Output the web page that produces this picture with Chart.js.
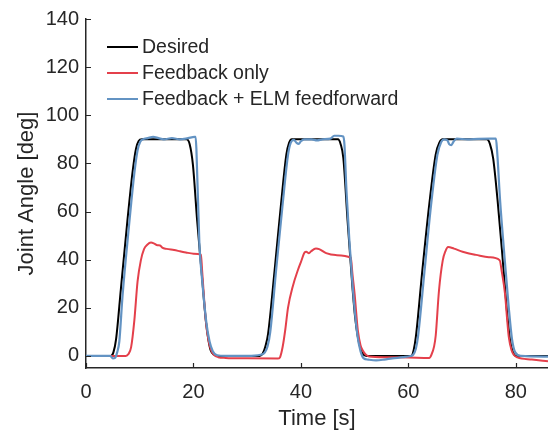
<!DOCTYPE html>
<html>
<head>
<meta charset="utf-8">
<script src="https://cdn.jsdelivr.net/npm/chart.js@4.4.1/dist/chart.umd.min.js"></script>
<style>
  html, body { margin: 0; padding: 0; background: #fff; }
  #wrap { width: 548px; height: 432px; }
</style>
</head>
<body>
<div id="wrap"><canvas id="myChart" width="548" height="432"></canvas></div>
<script>
// tick values
const xTicks = [0, 20, 40, 60, 80];
const yTicks = [0, 20, 40, 60, 80, 100, 120, 140];

// Desired (black)
const desiredT = [
  0, 4.6, 5.1, 5.6, 6.5, 7.7, 8.7, 9.3, 9.8, 10.4,
  18.7, 19.3, 19.9, 20.7, 21.5, 22.3, 22.8, 23.2, 23.8, 24.6,
  32.3, 32.9, 33.4, 33.9, 35.1, 36.3, 37.3, 37.8, 38.3,
  46.9, 47.4, 47.9, 48.7, 49.6, 50.1, 50.6, 51.1, 51.5, 52.2,
  60.5, 61.0, 61.4, 62.6, 63.9, 65.1, 65.8, 66.4,
  74.6, 75.2, 75.8, 76.6, 77.5, 78.3, 78.9, 79.4, 80.1, 86
];
const desiredY = [
  0, 0, 1.5, 7, 28, 56, 77, 86, 89.3, 90,
  90, 88, 79.5, 56, 35.4, 14.8, 6.5, 2.4, 0.6, 0,
  0, 1, 4, 9.3, 35.4, 63, 83.7, 88.5, 90,
  90, 88, 82.3, 56, 28.5, 16, 7.9, 3, 1, 0,
  0, 2.5, 7.9, 35.4, 63, 83.7, 88.7, 90,
  90, 88, 82, 65, 42, 20, 7, 2, 0, 0
];

// Feedback only (red)
const feedbackT = [
  0, 7.4, 7.9, 8.4, 9.0, 9.6, 10.2, 10.8, 11.4, 12.1,
  12.7, 13.3, 13.8, 14.2, 15.0, 16.4, 17.5, 18.6, 20.0, 21.4,
  21.6, 22.3, 22.8, 23.3, 23.8, 24.6, 26, 30, 35.7,
  36.1, 36.6, 37.1, 37.6, 38.5, 39.4, 40.0, 40.7,
  41.0, 41.5, 41.9, 42.8, 43.4, 44.7, 46.5, 49.3,
  49.6, 50.0, 50.6, 51.1, 51.5, 52.1, 52.7, 56, 60, 63.9,
  64.3, 64.8, 65.1, 65.7, 66.4, 66.9, 67.4,
  68.5, 70.1, 71.3, 72.6, 75, 77.0,
  77.4, 78.0, 78.4, 78.7, 79.2, 79.7, 80.3, 83, 86
];
const feedbackY = [
  0, 0, 0.8, 3.7, 14.8, 31, 39.6, 44.4, 46.2, 47.1,
  46.7, 46.0, 45.9, 45.0, 44.5, 44.0, 43.5, 43.0, 42.5, 42.1,
  36, 14.8, 6.5, 2.4, 0.5, -0.5, -0.8, -1.0, -1.1,
  -0.6, 3.7, 11, 20, 29, 35.4, 39, 43,
  43.3, 42.7, 43.5, 44.6, 44.4, 42.7, 41.9, 40.8,
  34, 25.8, 10.6, 4.5, 2.4, 0.5, -0.2, -0.5, -0.6, -0.8,
  0.5, 4, 8.5, 27, 39.6, 43.5, 45.3,
  44.6, 43.3, 42.6, 42.0, 41, 39.8,
  35, 25.8, 15, 7.9, 2.5, 0.3, -0.6, -1.5, -2.2
];

// Feedback + ELM feedforward (blue)
const elmT = [
  0, 4.5, 5.0, 5.4, 5.8, 6.2, 6.8, 8.0, 9.0, 9.6, 10.1, 10.6,
  11.5, 12.5, 13.5, 14.5, 16, 17.5, 19, 20.2, 20.4,
  20.55, 21.1, 21.6, 22.4, 23.0, 23.6, 24.4, 26, 30, 32.5,
  33.3, 33.8, 34.3, 35.4, 36.6, 37.6, 38.1, 38.7,
  39.2, 39.6, 40.0, 40.6, 42, 43, 44, 45.5, 46.2, 47.0, 47.9,
  48.1, 48.5, 49.6, 50.5, 51.1, 51.7, 52.5, 54, 55.5, 57, 59, 60.4,
  60.9, 61.4, 61.8, 63.0, 64.2, 65.4, 66.1, 66.7,
  67.3, 67.6, 68.0, 68.4, 69.0, 71, 73, 75.3, 76.3,
  76.5, 77.1, 77.8, 78.7, 79.3, 79.9, 81, 86
];
const elmY = [
  0, 0, -1, -0.8, 1.5, 6, 25, 54, 76, 85.5, 89, 90,
  90.5, 91, 90.5, 90, 90.5, 90, 90.5, 91, 91,
  86, 47, 32, 14, 6, 2, 0.3, 0, 0, 0.5,
  1.5, 4, 10, 36, 63, 83.5, 88.5, 89.8,
  88.5, 88.1, 89.2, 90, 90, 89.6, 90, 90.3, 91.5, 91.5, 91.2,
  88, 68, 30, 9, 2, -1, -1.5, -1.8, -1.5, -1, -0.5, 0,
  0.5, 3, 8, 35, 62, 83.5, 88.8, 90,
  89.5, 88, 87.6, 89, 90.3, 90, 90.2, 90.3, 90.3,
  86, 64, 44, 20, 7, 1.5, 0, -0.3
];

const axisColor = '#262626';
const fontFamily = '"Liberation Sans", Arial, Helvetica, sans-serif';

function toPoints(t, v) {
  return t.map((x, i) => ({ x: x, y: v[i] }));
}

// legend drawn inside the plot, top-left
const insideLegend = {
  id: 'insideLegend',
  afterDraw(chart) {
    const ctx = chart.ctx;
    ctx.save();
    ctx.font = '19.5px ' + fontFamily;
    ctx.textBaseline = 'middle';
    chart.data.datasets.forEach((ds, i) => {
      const y = 47 + i * 26;
      ctx.strokeStyle = ds.borderColor;
      ctx.lineWidth = 2;
      ctx.beginPath();
      ctx.moveTo(107, y);
      ctx.lineTo(138, y);
      ctx.stroke();
      ctx.fillStyle = axisColor;
      ctx.fillText(ds.label, 142, y + 1);
    });
    ctx.restore();
  }
};

// inward tick marks (matlab style)
const inwardTicks = {
  id: 'inwardTicks',
  afterDraw(chart) {
    const { ctx, chartArea, scales } = chart;
    ctx.save();
    ctx.strokeStyle = axisColor;
    ctx.lineWidth = 1.2;
    ctx.beginPath();
    scales.x.ticks.forEach(t => {
      const px = Math.round(scales.x.getPixelForValue(t.value)) + 0.5;
      ctx.moveTo(px, chartArea.bottom);
      ctx.lineTo(px, chartArea.bottom - 5);
    });
    scales.y.ticks.forEach(t => {
      const py = Math.round(scales.y.getPixelForValue(t.value)) + 0.5;
      ctx.moveTo(chartArea.left, py);
      ctx.lineTo(chartArea.left + 5, py);
    });
    ctx.stroke();
    ctx.restore();
  }
};

const data = {
  datasets: [
    {
      label: 'Desired',
      data: toPoints(desiredT, desiredY),
      borderColor: '#000000',
      borderWidth: 2,
      order: 3
    },
    {
      label: 'Feedback only',
      data: toPoints(feedbackT, feedbackY),
      borderColor: '#e4404b',
      borderWidth: 2,
      order: 2
    },
    {
      label: 'Feedback + ELM feedforward',
      data: toPoints(elmT, elmY),
      borderColor: '#6393c3',
      borderWidth: 2.2,
      order: 1
    }
  ]
};

const config = {
  type: 'line',
  data: data,
  options: {
    responsive: false,
    animation: false,
    devicePixelRatio: 1,
    layout: { padding: { left: 0, right: 0, top: 17, bottom: 0 } },
    elements: {
      point: { radius: 0 },
      line: { cubicInterpolationMode: 'monotone', fill: false }
    },
    plugins: {
      legend: { display: false },
      tooltip: { enabled: false }
    },
    scales: {
      x: {
        type: 'linear',
        min: 0,
        max: 86,
        afterBuildTicks: s => { s.ticks = xTicks.map(v => ({ value: v })); },
        afterFit: s => { s.height = 64; },
        grid: { display: true, drawOnChartArea: false, drawTicks: false },
        border: { display: true, color: axisColor, width: 1.5 },
        ticks: {
          autoSkip: false, maxRotation: 0, padding: 12,
          color: axisColor, font: { family: fontFamily, size: 20 }
        },
        title: {
          display: true, text: 'Time [s]', color: axisColor,
          font: { family: fontFamily, size: 22 }, padding: { top: 0, bottom: 0 }
        }
      },
      y: {
        type: 'linear',
        min: -5,
        max: 140,
        afterBuildTicks: s => { s.ticks = yTicks.map(v => ({ value: v })); },
        afterFit: s => { s.width = 86; },
        grid: { display: true, drawOnChartArea: false, drawTicks: false },
        border: { display: true, color: axisColor, width: 1.5 },
        ticks: {
          autoSkip: false, padding: 7,
          color: axisColor, font: { family: fontFamily, size: 20 }
        },
        title: {
          display: true, text: 'Joint Angle [deg]', color: axisColor,
          font: { family: fontFamily, size: 22 }, padding: { top: 14, bottom: 14 }
        }
      }
    }
  },
  plugins: [inwardTicks, insideLegend]
};

var myChart = new Chart(document.getElementById('myChart'), config);
</script>
</body>
</html>
